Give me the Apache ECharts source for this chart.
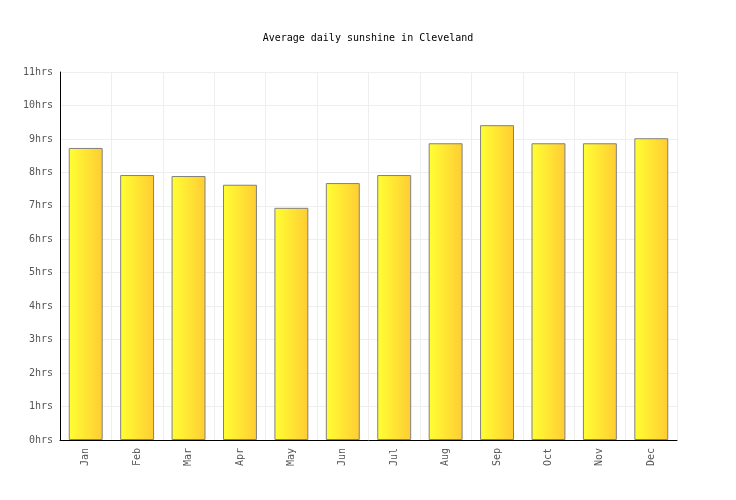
<!DOCTYPE html>
<html><head><meta charset="utf-8">
<script src="https://cdn.jsdelivr.net/npm/echarts@6/dist/echarts.min.js"></script>
<style>html,body{margin:0;padding:0;background:#fff}#c{width:736px;height:500px}</style>
</head><body><div id="c"></div>
<script>
var months = ['Jan','Feb','Mar','Apr','May','Jun','Jul','Aug','Sep','Oct','Nov','Dec'];
var sunshine = [8.73, 7.92, 7.89, 7.63, 6.94, 7.68, 7.92, 8.87, 9.41, 8.87, 8.87, 9.02];
var chart = echarts.init(document.getElementById('c'));
var font = 'DejaVu Sans Mono';
chart.setOption({
  animation: false,
  title: {text: 'Average daily sunshine in Cleveland', left: 'center', top: 28,
    textStyle: {fontFamily: font, fontSize: 10, fontWeight: 'normal', color: '#000'}},
  grid: {left: 60, right: 59, top: 72, bottom: 60},
  xAxis: {type: 'category', data: months,
    axisLine: {lineStyle: {color: '#000', width: 1}},
    axisTick: {show: false},
    splitLine: {show: true, lineStyle: {color: '#eeeeee'}},
    axisLabel: {rotate: 90, fontFamily: font, fontSize: 10, color: '#555', margin: 8}},
  yAxis: {type: 'value', min: 0, max: 11, interval: 1,
    axisLine: {show: true, lineStyle: {color: '#000', width: 1}},
    axisTick: {show: false},
    splitLine: {lineStyle: {color: '#eeeeee'}},
    axisLabel: {formatter: '{value}hrs', fontFamily: font, fontSize: 10, color: '#555', margin: 7}},
  series: [{type: 'bar', data: sunshine, barWidth: '66%',
    itemStyle: {borderColor: '#808080', borderWidth: 1,
      color: new echarts.graphic.LinearGradient(0, 0, 1, 0, [
        {offset: 0, color: '#ffff33'}, {offset: 1, color: '#ffcc33'}])}}]
});
</script></body></html>
